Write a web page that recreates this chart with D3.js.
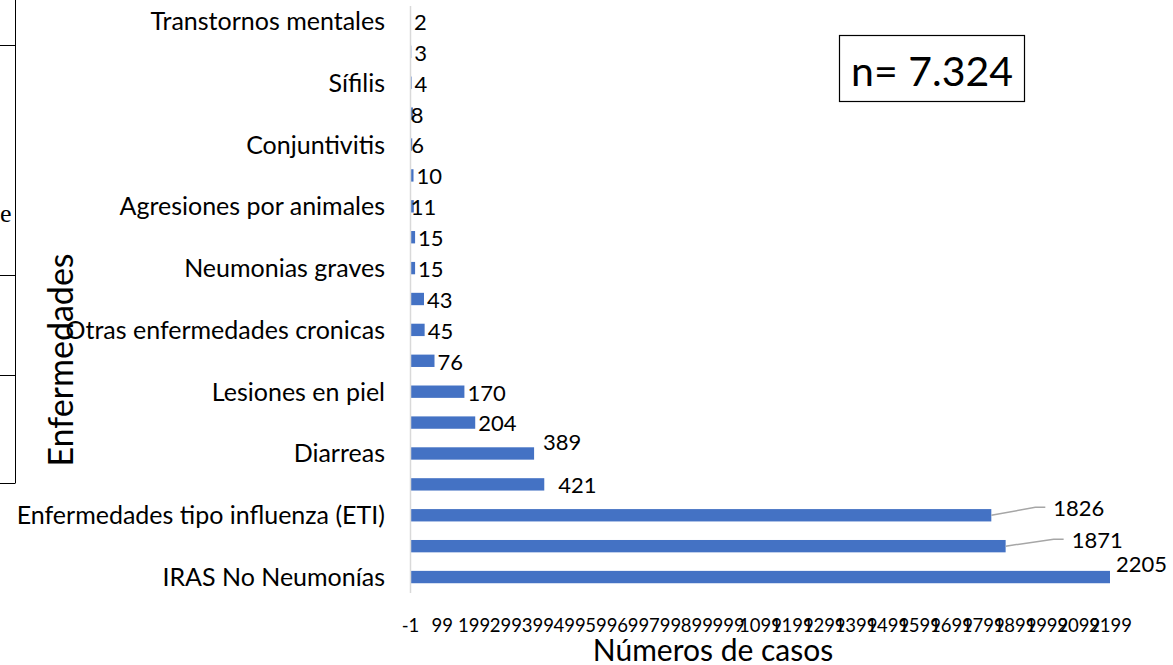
<!DOCTYPE html>
<html>
<head>
<meta charset="utf-8">
<script src="https://cdn.jsdelivr.net/npm/d3@7"></script>
<style>
  body { margin: 0; background: #fff; }
  svg { display: block; }
</style>
</head>
<body>
<svg id="chart" width="1173" height="665"></svg>
<script>
// categories, top to bottom (only every other one carries a label in the source)
var categories = [
    "Transtornos mentales", "", "Sífilis", "", "Conjuntivitis", "",
    "Agresiones por animales", "", "Neumonias graves", "",
    "Otras enfermedades cronicas", "", "Lesiones en piel", "",
    "Diarreas ", "", "Enfermedades tipo influenza (ETI)", "", "IRAS No Neumonías"
];
var casos = [2, 3, 4, 8, 6, 10, 11, 15, 15, 43, 45, 76, 170, 204, 389, 421, 1826, 1871, 2205];
var tickValues = [-1, 99, 199, 299, 399, 499, 599, 699, 799, 899, 999, 1099, 1199,
                  1299, 1399, 1499, 1599, 1699, 1799, 1899, 1999, 2099, 2199];
var totalLabel = "n= 7.324";

var font = "Lato, 'Open Sans', sans-serif";
var svg = d3.select("#chart");

var x = d3.scaleLinear()
    .domain([-1, 2199])
    .range([410, 1110])
    .clamp(true);

var y = d3.scaleBand()
    .domain(d3.range(categories.length))
    .range([5.5, 592.5])
    .paddingInner(0.6)
    .paddingOuter(0.3);

// label nudges for the few labels Excel moved around (index -> [dx, dy])
var nudge = {3: [-5, 0], 4: [-4, 0], 6: [-6, 0], 14: [6, -12], 15: [11, 0],
             16: [59, -8], 17: [63, -7], 18: [3, -14]};
var leaders = [16, 17];

// stray table border from the page behind the chart
var table = svg.append("g").attr("stroke", "#000").attr("stroke-width", 1);
table.append("line").attr("x1", 15.5).attr("x2", 15.5).attr("y1", 0).attr("y2", 483);
[45.5, 275.5, 375.5, 483.5].forEach(function (ly) {
    table.append("line").attr("x1", 0).attr("x2", 15.5).attr("y1", ly).attr("y2", ly);
});
svg.append("text").attr("x", 0).attr("y", 222)
    .style("font-family", "'Liberation Serif', 'DejaVu Serif', serif")
    .style("font-size", "26px").text("e");

// bars
svg.append("g").selectAll("rect")
    .data(casos)
    .enter()
    .append("rect")
    .attr("x", x(0))
    .attr("y", function (d, i) {return y(i);})
    .attr("width", function (d) {return Math.max(0, x(d) - x(0));})
    .attr("height", y.bandwidth())
    .attr("fill", "#4472C4");

// category axis
var yAxis = d3.axisLeft(y)
    .tickSize(0)
    .tickPadding(25)
    .tickFormat(function (i) {return categories[i];});
var gy = svg.append("g").attr("transform", "translate(410,1)").call(yAxis);
gy.select(".domain").attr("stroke", "#d9d9d9").attr("stroke-width", 1.5)
    .attr("transform", "translate(0,-1)");
gy.selectAll("text")
    .style("font-family", font)
    .style("font-size", "25px")
    .attr("fill", "#000");

// value axis (labels only)
var xAxis = d3.axisBottom(x)
    .tickValues(tickValues)
    .tickSize(0)
    .tickPadding(27)
    .tickFormat(function (d) {return String(d);});
var gx = svg.append("g").attr("transform", "translate(0,592)").call(xAxis);
gx.select(".domain").remove();
gx.selectAll("text")
    .style("font-family", font)
    .style("font-size", "18.5px")
    .attr("fill", "#000");

// leader lines
svg.append("g").selectAll("polyline")
    .data(leaders)
    .enter()
    .append("polyline")
    .attr("points", function (i) {
        var x0 = x(casos[i]), y0 = y(i) + y.bandwidth() / 2;
        var lx = x0 + 3 + nudge[i][0], ly = y0 + nudge[i][1];
        return [[x0, y0], [lx - 18, ly], [lx - 8, ly]].join(" ");
    })
    .attr("fill", "none")
    .attr("stroke", "#a6a6a6")
    .attr("stroke-width", 1.5);

// data labels
svg.append("g").selectAll("text")
    .data(casos)
    .enter()
    .append("text")
    .attr("x", function (d, i) {return x(d) + 3 + (nudge[i] ? nudge[i][0] : 0);})
    .attr("y", function (d, i) {return y(i) + y.bandwidth() / 2 + 1 + (nudge[i] ? nudge[i][1] : 0);})
    .attr("dy", "0.36em")
    .style("font-family", font)
    .style("font-size", "22px")
    .attr("fill", "#000")
    .text(function (d) {return d;});

// axis titles
svg.append("text")
    .attr("x", 713).attr("y", 661)
    .attr("text-anchor", "middle")
    .style("font-family", font)
    .style("font-size", "30px")
    .text("Números de casos");
svg.append("text")
    .attr("transform", "translate(73,360) rotate(-90)")
    .attr("text-anchor", "middle")
    .style("font-family", font)
    .style("font-size", "34px")
    .text("Enfermedades");

// total box
svg.append("rect")
    .attr("x", 839.5).attr("y", 35.5)
    .attr("width", 185).attr("height", 66)
    .attr("fill", "#fff").attr("stroke", "#000").attr("stroke-width", 1.2);
svg.append("text")
    .attr("x", 932).attr("y", 86)
    .attr("text-anchor", "middle")
    .style("font-family", font)
    .style("font-size", "41px")
    .text(totalLabel);
</script>
</body>
</html>
